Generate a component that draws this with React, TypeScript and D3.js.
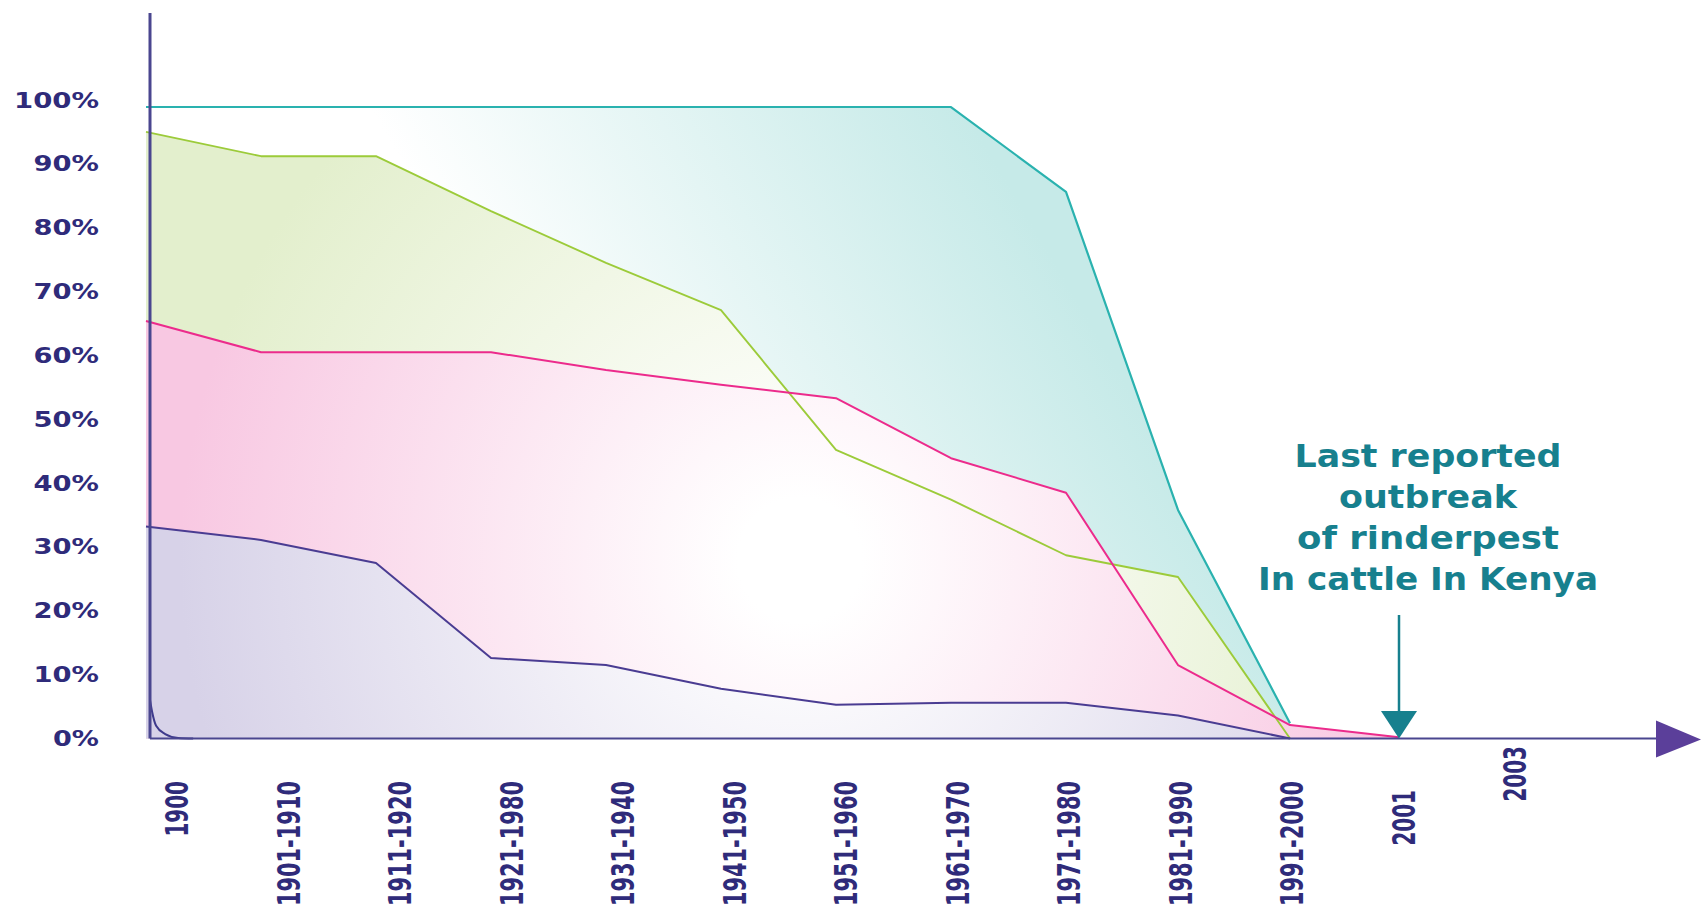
import React from "react";
import * as d3 from "d3";

// ---- Data ----
const periods = [
  "1900", "1901-1910", "1911-1920", "1921-1980", "1931-1940", "1941-1950",
  "1951-1960", "1961-1970", "1971-1980", "1981-1990", "1991-2000", "2001", "2003",
];
const tealValues = [98.9, 98.9, 98.9, 98.9, 98.9, 98.9, 98.9, 98.9, 85.6, 35.8, 2.4];
const greenValues = [95.0, 91.2, 91.2, 82.6, 74.5, 67.1, 45.2, 37.4, 28.7, 25.3, 0];
const pinkValues = [65.4, 60.5, 60.5, 60.5, 57.7, 55.4, 53.3, 43.9, 38.5, 11.5, 2.1, 0.2];
const purpleValues = [33.2, 31.1, 27.5, 12.6, 11.5, 7.8, 5.3, 5.6, 5.6, 3.6, 0];
const tailIndex = [0.035, 0.053, 0.088, 0.167, 0.28, 0.41];
const tailValues = [6.0, 4.2, 2.0, 0.7, 0.08, 0];
const yTicks = [0, 10, 20, 30, 40, 50, 60, 70, 80, 90, 100];
const noteLines = ["Last reported", "outbreak", "of rinderpest", "In cattle In Kenya"];
const noteWidths = [267, 178, 262, 340];
const markedPeriod = "2001";

const W = 1701;
const H = 908;
const FONT = "'DejaVu Sans', Verdana, sans-serif";
const NAVY = "#2F2B7A";
const AXIS = "#4A468F";
const NOTE = "#17808E";

export default function App() {
  const x = d3.scaleLinear().domain([0, 2, 8, 10, 11]).range([146, 376, 1066, 1290, 1399]);
  const y = d3.scaleLinear().domain([0, 100]).range([738.5, 100]);
  const xl = d3.scalePoint<string>().domain(periods).range([177, 1515]);

  const toPts = (vals: number[]) => vals.map((v, i) => [i, v] as [number, number]);
  const area = d3.area<[number, number]>().x((d) => x(d[0])).y0(y(0)).y1((d) => y(d[1]));
  const line = d3.line<[number, number]>().x((d) => x(d[0])).y((d) => y(d[1]));
  const tailPts = tailIndex.map((t, i) => [t, tailValues[i]] as [number, number]);
  const tailLine = d3.line<[number, number]>().x((d) => x(d[0])).y((d) => y(d[1])).curve(d3.curveMonotoneX);
  const tailArea = d3.area<[number, number]>().x((d) => x(d[0])).y0(y(0)).y1((d) => y(d[1])).curve(d3.curveMonotoneX);

  const series = [
    { key: "teal", vals: tealValues, fill: "url(#gTeal)", stroke: "#2AB2AF", w: 2.2 },
    { key: "green", vals: greenValues, fill: "url(#gGreen)", stroke: "#9CCB3A", w: 1.9 },
    { key: "pink", vals: pinkValues, fill: "url(#gPink)", stroke: "#EC2B8C", w: 2 },
    { key: "purple", vals: purpleValues, fill: "url(#gPurple)", stroke: "#4A3C92", w: 2 },
  ];

  const labelOffset = (p: string) => (p === "2001" ? 9 : p === "2003" ? -35 : 0);
  const ax = x(0) + 4;
  const base = y(0);
  const mx = x(periods.indexOf(markedPeriod));

  const radial = (id: string, color: string) => (
    <radialGradient id={id} gradientUnits="userSpaceOnUse" cx={800} cy={560} r={620}>
      <stop offset="0" stopColor="#FFFFFF" />
      <stop offset="0.1" stopColor="#FFFFFF" />
      <stop offset="1" stopColor={color} />
    </radialGradient>
  );

  return (
    <svg width={W} height={H} style={{ position: "absolute", left: 0, top: 0, display: "block" }}>
      <defs>
        <linearGradient id="gTeal" gradientUnits="userSpaceOnUse" x1={560} y1={430} x2={1000} y2={170}>
          <stop offset="0" stopColor="#FFFFFF" />
          <stop offset="1" stopColor="#C6EAE8" />
        </linearGradient>
        {radial("gGreen", "#E3EFCD")}
        {radial("gPink", "#F8C8E2")}
        {radial("gPurple", "#D7D2E8")}
      </defs>
      <rect width={W} height={H} fill="#FFFFFF" />

      {series.map((s) => (
        <path key={s.key + "a"} d={area(toPts(s.vals)) || ""} fill={s.fill} />
      ))}
      <path d={tailArea(tailPts) || ""} fill="url(#gPurple)" />
      {series.map((s) => (
        <path key={s.key + "l"} d={line(toPts(s.vals)) || ""} fill="none" stroke={s.stroke} strokeWidth={s.w} strokeLinejoin="round" />
      ))}
      <path d={tailLine(tailPts) || ""} fill="none" stroke="#3E3A8C" strokeWidth={2} />

      {/* axes */}
      <line x1={ax} x2={ax} y1={13} y2={base} stroke={AXIS} strokeWidth={3} />
      <line x1={ax} x2={1660} y1={base} y2={base} stroke={AXIS} strokeWidth={2} />
      <polygon points={`1656,${base - 18} 1701,${base + 1} 1656,${base + 19}`} fill="#5B3F9A" />

      {yTicks.map((t) => {
        const s = `${t}%`;
        return (
          <text key={t} x={99} y={y(t)} textAnchor="end" dominantBaseline="central"
            fontFamily={FONT} fontWeight="bold" fontSize={22} fill={NAVY}
            textLength={19.5 * s.length + 7} lengthAdjust="spacingAndGlyphs">{s}</text>
        );
      })}

      {periods.map((p) => (
        <text key={p} transform={`translate(${xl(p)},${781 + labelOffset(p)}) rotate(-90)`}
          textAnchor="end" dominantBaseline="central" fontFamily={FONT} fontWeight="bold"
          fontSize={32} fill={NAVY} textLength={13.9 * p.length} lengthAdjust="spacingAndGlyphs">{p}</text>
      ))}

      {/* annotation */}
      {noteLines.map((l, i) => (
        <text key={l} x={1428} y={467 + i * 41} textAnchor="middle" fontFamily={FONT}
          fontWeight="bold" fontSize={32} fill={NOTE} textLength={noteWidths[i]}
          lengthAdjust="spacingAndGlyphs">{l}</text>
      ))}
      <line x1={mx} x2={mx} y1={615} y2={714} stroke={NOTE} strokeWidth={2.5} />
      <polygon points={`${mx - 18},${711} ${mx + 18},${711} ${mx},${base}`} fill={NOTE} />
    </svg>
  );
}
